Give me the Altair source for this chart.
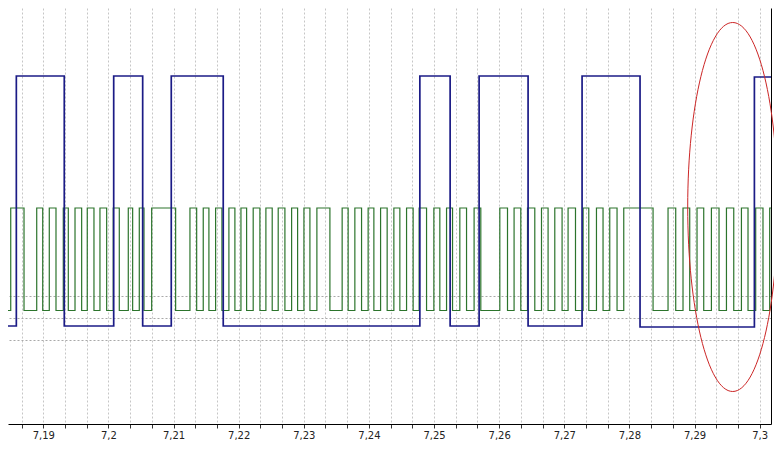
import altair as alt
import pandas as pd

# ---- axis / view extent (time in seconds, level in display units) ----
X_START, X_END = 7.18458, 7.30174
Y_MIN, Y_MAX = 0.16, 8.48

major_ticks = [7.19, 7.20, 7.21, 7.22, 7.23, 7.24, 7.25, 7.26, 7.27, 7.28, 7.29, 7.30]
minor_offsets = [0.01 / 3, 0.02 / 3]
ref_levels = [1.84, 2.28, 2.72]          # dotted horizontal reference lines

# ---- blue channel (data line): edge times and level after each edge ----
blue_times = [X_START, 7.18586, 7.19322, 7.20081, 7.20526, 7.20965, 7.21763,
              7.24782, 7.25247, 7.25692, 7.26444, 7.27273, 7.28163, 7.29919, X_END]
blue_levels = [2.12, 7.12, 2.12, 7.12, 2.12, 7.12, 2.12,
               7.12, 2.12, 7.12, 2.12, 7.12, 2.10, 7.10, 7.10]

# ---- green channel (clock): edge times, level alternates from the start level ----
GREEN_HIGH, GREEN_LOW = 4.48, 2.43
green_start_level = "L"
green_times = [X_START,
    7.18500, 7.18704, 7.18899, 7.18991, 7.19092, 7.19195, 7.19307, 7.19384,
    7.19487, 7.19589, 7.19675, 7.19778, 7.19870, 7.19973, 7.20074, 7.20167,
    7.20305, 7.20372, 7.20474, 7.20546, 7.20664, 7.21032, 7.21252, 7.21355,
    7.21456, 7.21543, 7.21646, 7.21743, 7.21850, 7.21942, 7.22035, 7.22122,
    7.22223, 7.22326, 7.22418, 7.22515, 7.22607, 7.22710, 7.22813, 7.22905,
    7.23002, 7.23094, 7.23201, 7.23401, 7.23589, 7.23681, 7.23784, 7.23887,
    7.23988, 7.24076, 7.24179, 7.24280, 7.24383, 7.24475, 7.24578, 7.24679,
    7.24771, 7.24885, 7.24997, 7.25089, 7.25192, 7.25284, 7.25396, 7.25499,
    7.25615, 7.25718, 7.26010, 7.26128, 7.26229, 7.26332, 7.26435, 7.26547,
    7.26650, 7.26751, 7.26854, 7.26966, 7.27058, 7.27172, 7.27289, 7.27376,
    7.27494, 7.27595, 7.27698, 7.27810, 7.27913, 7.28363, 7.28593, 7.28711,
    7.28823, 7.28926, 7.29038, 7.29141, 7.29259, 7.29376, 7.29490, 7.29602,
    7.29720, 7.29821, 7.29939, 7.30051, 7.30154]

# ---- annotation ellipse (centre in data units, radii in pixels) ----
ellipse_t, ellipse_v = 7.29586, 4.50
ELLIPSE_RX_PX, ELLIPSE_RY_PX = 45, 184.5

# ---------------------------------------------------------------------
minor_ticks = [round(m + o, 5) for m in [7.18] + major_ticks for o in minor_offsets]
minor_ticks = [v for v in minor_ticks if X_START <= v <= X_END]
tick_values = sorted(major_ticks + minor_ticks)

blue_df = pd.DataFrame({"t": blue_times, "v": blue_levels})

levels = []
state = green_start_level
for i, _ in enumerate(green_times):
    levels.append(GREEN_HIGH if state == "H" else GREEN_LOW)
    state = "L" if state == "H" else "H"
green_times_full = green_times + [X_END]
levels.append(levels[-1])
green_df = pd.DataFrame({"t": green_times_full, "v": levels})

ellipse_df = pd.DataFrame({"t": [ellipse_t], "v": [ellipse_v]})

label_expr = ("abs(datum.value*100 - round(datum.value*100)) < 0.01 ? "
              "replace(format(datum.value, '.2~f'), '.', ',') : ''")

x_axis = alt.Axis(values=tick_values, labelExpr=label_expr, title=None,
                  grid=True, gridColor="#c6c6c6", gridDash=[2, 2], gridWidth=1,
                  domainColor="#000000", domainWidth=1, tickColor="#333333",
                  tickSize=4, labelPadding=2, labelFont="DejaVu Sans",
                  labelFontSize=10, labelColor="#222222", labelFlush=False,
                  labelOverlap=False, labelBound=False)
y_axis = alt.Axis(orient="right", values=ref_levels, title=None, labels=False,
                  ticks=False, grid=True, gridColor="#a9a9a9", gridDash=[2, 2],
                  domainColor="#000000", domainWidth=1)

x_scale = alt.Scale(domain=[X_START, X_END], nice=False, zero=False)
y_scale = alt.Scale(domain=[Y_MIN, Y_MAX], nice=False, zero=False)

def enc(chart):
    return chart.encode(
        x=alt.X("t:Q", scale=x_scale, axis=x_axis),
        y=alt.Y("v:Q", scale=y_scale, axis=y_axis),
    )

green = enc(alt.Chart(green_df).mark_line(interpolate="step-after", color="#2c742c",
                                          strokeWidth=1.2))
blue = enc(alt.Chart(blue_df).mark_line(interpolate="step-after", color="#1b1b86",
                                        strokeWidth=1.7))

k = ELLIPSE_RX_PX / ELLIPSE_RY_PX
ellipse_path = (f"M {-k:.4f} 0 A {k:.4f} 1 0 1 0 {k:.4f} 0 "
                f"A {k:.4f} 1 0 1 0 {-k:.4f} 0 Z")
ellipse = enc(alt.Chart(ellipse_df).mark_point(shape=ellipse_path, filled=False,
                                               size=(2 * ELLIPSE_RY_PX) ** 2,
                                               color="#cc2626", strokeWidth=1,
                                               opacity=1))

chart = alt.layer(green, blue, ellipse).properties(
    width=763, height=416,
    padding={"left": 0, "top": 0, "right": 3, "bottom": 16},
    autosize=alt.AutoSizeParams(type="none"),
    background="white",
).configure_view(stroke=None)

chart.save("out.html", embed_options={"renderer": "svg", "actions": False})
